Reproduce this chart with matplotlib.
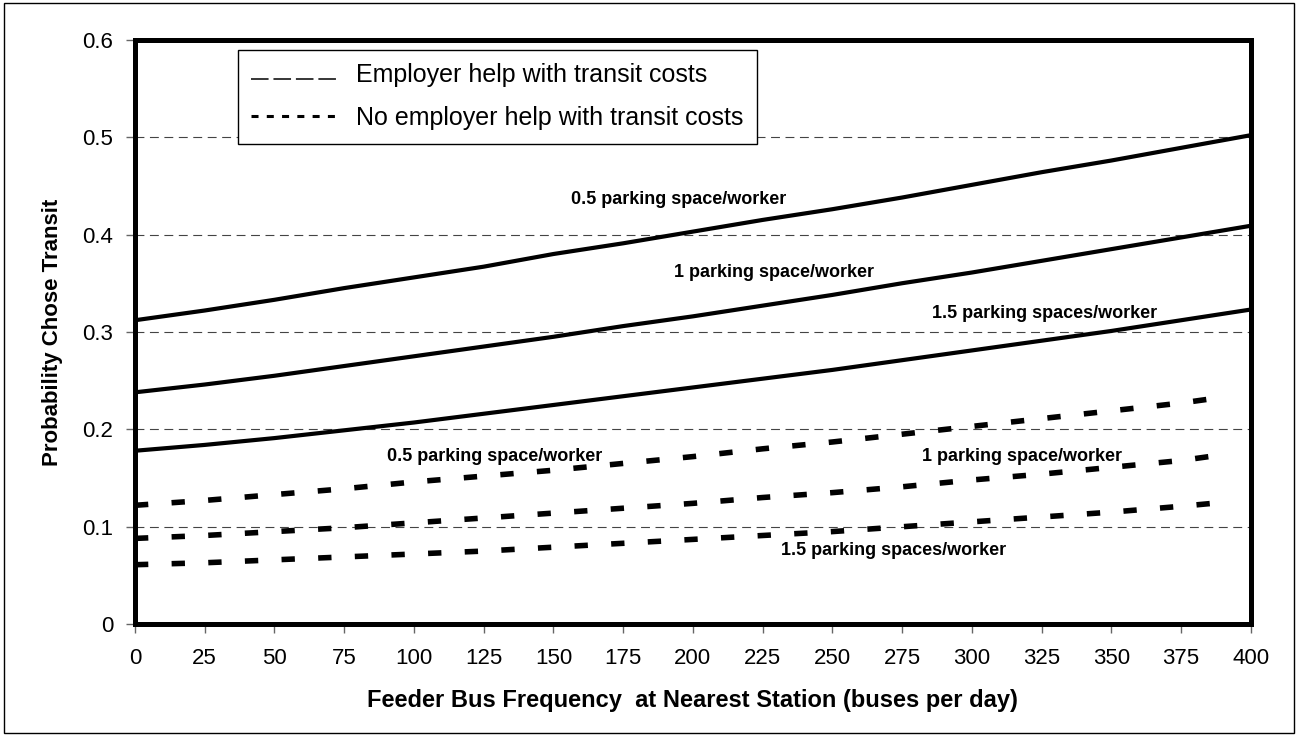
import matplotlib
matplotlib.use("Agg")
import matplotlib.pyplot as plt
import numpy as np
from matplotlib.lines import Line2D
from matplotlib.patches import Rectangle
from matplotlib.legend_handler import HandlerLine2D

plt.rcParams['font.family'] = ['Liberation Sans', 'DejaVu Sans']

# feeder bus frequency (buses per day)
x_help = [0, 25, 50, 75, 100, 125, 150, 175, 200, 225, 250, 275, 300, 325, 350, 375, 400]
x_nohelp = [0, 25, 50, 75, 100, 125, 150, 175, 200, 225, 250, 275, 300, 325, 350, 375, 390]

# employer help with transit costs
help_05 = [0.312, 0.322, 0.333, 0.345, 0.356, 0.367, 0.380, 0.391, 0.403,
           0.415, 0.426, 0.438, 0.451, 0.464, 0.476, 0.489, 0.502]
help_10 = [0.238, 0.246, 0.255, 0.265, 0.275, 0.285, 0.295, 0.306, 0.316,
           0.327, 0.338, 0.350, 0.361, 0.373, 0.385, 0.397, 0.409]
help_15 = [0.178, 0.184, 0.191, 0.199, 0.207, 0.216, 0.225, 0.234, 0.243,
           0.252, 0.261, 0.271, 0.281, 0.291, 0.301, 0.312, 0.323]

# no employer help with transit costs
nohelp_05 = [0.122, 0.127, 0.133, 0.139, 0.146, 0.152, 0.158, 0.165, 0.172,
             0.180, 0.187, 0.195, 0.203, 0.211, 0.219, 0.227, 0.233]
nohelp_10 = [0.088, 0.091, 0.095, 0.099, 0.104, 0.109, 0.114, 0.119, 0.124,
             0.130, 0.135, 0.141, 0.148, 0.154, 0.161, 0.168, 0.174]
nohelp_15 = [0.061, 0.063, 0.066, 0.069, 0.072, 0.075, 0.079, 0.083, 0.087,
             0.091, 0.095, 0.100, 0.105, 0.110, 0.115, 0.121, 0.125]

x_ticks = list(range(0, 401, 25))
y_ticks = [0, 0.1, 0.2, 0.3, 0.4, 0.5, 0.6]
y_tick_labels = ["0", "0.1", "0.2", "0.3", "0.4", "0.5", "0.6"]


class BaselineHandler(HandlerLine2D):
    """legend sample sitting low, like an underscore"""
    def create_artists(self, legend, orig_handle, xdescent, ydescent,
                       width, height, fontsize, trans):
        arts = super().create_artists(legend, orig_handle, xdescent, ydescent,
                                      width, height, fontsize, trans)
        for a in arts:
            if isinstance(a, Line2D):
                a.set_ydata(np.asarray(a.get_ydata()) - 0.32 * height)
        return arts


fig = plt.figure(figsize=(12.99, 7.36), dpi=100)
ax = fig.add_axes([0.1039, 0.152, 0.859, 0.794])

# outer frame of the chart
fig.patches.append(Rectangle((0.003, 0.004), 0.993, 0.992, transform=fig.transFigure,
                             fill=False, edgecolor='black', linewidth=1.0))

for y in y_ticks[1:-1]:
    ax.axhline(y, color='#444444', lw=0.8, dashes=(8, 5), zorder=1)

for ys in (help_05, help_10, help_15):
    ax.plot(x_help, ys, color='black', lw=3.0, solid_capstyle='butt', zorder=3)
for ys in (nohelp_05, nohelp_10, nohelp_15):
    ax.plot(x_nohelp, ys, color='black', lw=4.0, dashes=(2.4, 4.2),
            dash_capstyle='butt', zorder=3)

lab_kw = dict(fontsize=13, fontweight='bold', ha='center', va='center')
ax.text(195, 0.436, "0.5 parking space/worker", **lab_kw)
ax.text(229, 0.361, "1 parking space/worker", **lab_kw)
ax.text(326, 0.319, "1.5 parking spaces/worker", **lab_kw)
ax.text(129, 0.172, "0.5 parking space/worker", **lab_kw)
ax.text(318, 0.172, "1 parking space/worker", **lab_kw)
ax.text(272, 0.076, "1.5 parking spaces/worker", **lab_kw)

ax.set_xlim(0, 400)
ax.set_ylim(0, 0.6)
ax.set_xticks(x_ticks)
ax.set_yticks(y_ticks)
ax.set_yticklabels(y_tick_labels)
ax.tick_params(axis='both', labelsize=16, length=6.5, width=1, color='#666666', direction='out')
ax.tick_params(axis='y', pad=9)
ax.tick_params(axis='x', pad=11)
for s in ax.spines.values():
    s.set_linewidth(3.6)
    s.set_zorder(4)

ax.set_xlabel("Feeder Bus Frequency  at Nearest Station (buses per day)",
              fontsize=17, fontweight='bold', labelpad=14)
ax.set_ylabel("Probability Chose Transit", fontsize=16, fontweight='bold', labelpad=14)

h_help = Line2D([], [], color='black', lw=1.1, dashes=(11.5, 3.2))
h_nohelp = Line2D([], [], color='black', lw=2.2, dashes=(2.3, 2.7))
leg = ax.legend([h_help, h_nohelp],
                ["Employer help with transit costs", "No employer help with transit costs"],
                handler_map={h_help: BaselineHandler()},
                loc='upper left', bbox_to_anchor=(0.092, 0.983), fontsize=18,
                frameon=True, fancybox=False, shadow=False, framealpha=1,
                handlelength=3.5, handletextpad=0.7, labelspacing=0.75, borderpad=0.55,
                borderaxespad=0)
leg.get_frame().set_edgecolor('black')
leg.get_frame().set_linewidth(1.0)
leg.set_zorder(5)

fig.savefig("out.png", dpi=100)
